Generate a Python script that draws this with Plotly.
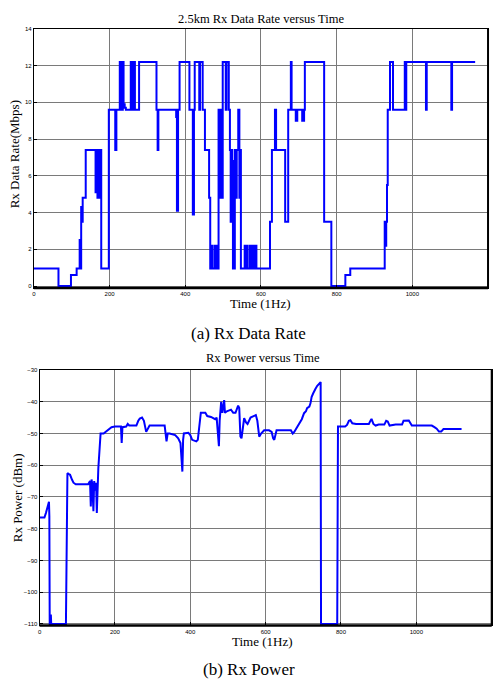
import plotly.graph_objects as go

# ---------------- data: Rx data rate (step function, value holds from each time) ----
rate_time = [0, 65, 98, 113, 121, 123, 125, 127, 129, 137, 163, 165, 168, 170, 172, 174, 178,
             198, 215, 218, 227, 229, 231, 233, 235, 237, 240, 243, 256, 258, 260, 263, 265, 267,
             278, 324, 327, 329, 376, 378, 381, 385, 411, 420, 423, 425, 437, 439, 446, 452,
             463, 466, 470, 472, 478, 480, 483, 485, 488, 491, 493, 496, 499, 507, 509, 515,
             518, 520, 522, 524, 526, 531, 534, 536, 540, 543, 545, 547, 557, 559, 562, 564,
             570, 572, 575, 577, 581, 583, 586, 588, 624, 629, 637, 640, 664, 672, 679, 681,
             692, 696, 709, 714, 716, 767, 786, 823, 836, 927, 929, 931, 933, 935, 941, 949,
             980, 982, 984, 1036, 1038, 1103, 1105, 1166]
rate_mbps = [0.96, 0.0, 0.6, 0.96, 2.5, 0.96, 4.3, 3.5, 4.8, 7.4, 5.1, 7.4, 4.8, 7.4, 4.8, 7.4, 0.96,
             9.6, 7.4, 9.6, 12.2, 9.6, 12.2, 9.6, 12.2, 9.9, 9.7, 9.6, 12.2, 9.6, 12.2, 9.6, 12.2, 9.6,
             12.2, 9.6, 7.4, 9.6, 9.2, 4.1, 9.6, 12.2, 9.6, 3.9, 9.6, 12.2, 9.6, 12.2, 9.6, 7.4,
             4.8, 0.96, 2.2, 0.96, 2.2, 0.96, 2.2, 0.96, 9.6, 4.8, 9.6, 4.8, 12.2, 9.6, 12.2, 9.6,
             7.4, 3.5, 7.4, 6.8, 0.96, 7.4, 4.8, 7.4, 9.6, 4.8, 7.4, 0.96, 2.2, 0.96, 2.2, 0.96,
             2.2, 0.96, 2.2, 0.96, 2.2, 0.96, 2.2, 0.96, 3.5, 7.4, 9.6, 7.4, 3.5, 9.6, 12.2, 9.6,
             9.0, 9.6, 9.0, 9.6, 12.2, 3.5, 0.0, 0.6, 0.96, 3.5, 2.2, 3.5, 5.5, 9.6, 12.2, 9.6,
             12.2, 9.6, 12.2, 9.6, 12.2, 9.6, 12.2, 12.2]

# ---------------- data: Rx power --------------------------------------------------
power_time = [0, 13, 17, 20, 23, 25, 26, 27, 29, 30, 31, 70, 72, 74, 78, 81, 86, 90, 96, 110,
              129, 134, 136, 138, 140, 143, 145, 148, 150, 152, 154, 156, 162, 170, 175, 182,
              191, 200, 216, 218, 220, 230, 234, 238, 257, 262, 266, 272, 277, 283, 287, 292,
              332, 335, 337, 340, 345, 360, 368, 374, 377, 379, 381, 383, 395, 400, 405, 416,
              420, 425, 428, 440, 445, 455, 466, 470, 474, 476, 478, 482, 485, 488, 490, 492,
              497, 508, 514, 520, 527, 530, 533, 536, 540, 543, 548, 552, 560, 568, 574, 578,
              583, 588, 596, 609, 616, 620, 623, 629, 640, 667, 672, 676, 681, 686, 690, 696,
              702, 707, 710, 716, 719, 722, 726, 729, 732, 737, 740, 744, 746, 747, 790, 792,
              803, 811, 816, 821, 825, 830, 840, 874, 879, 881, 886, 892, 900, 915, 920, 924,
              929, 945, 962, 966, 980, 988, 1000, 1041, 1048, 1054, 1060, 1066, 1072, 1090,
              1120]
power_dbm = [-76.5, -76.5, -75, -73.5, -72, -71.5, -76, -110, -110, -107, -110, -110, -80, -62.5,
             -62.8, -63, -64.5, -65.5, -66, -66, -66, -65, -73, -64.5, -66, -74.5, -65, -68,
             -65.5, -75, -61, -61, -50, -50, -49.5, -48.8, -48, -47.8, -47.8, -53, -48, -47.8,
             -47, -47.5, -47.5, -46, -45.3, -45, -46, -49.5, -48.5, -47.5, -47.5, -51, -52.5,
             -50, -50, -50.5, -51.5, -53, -58, -62, -52, -50, -49.8, -50.5, -52, -52.5, -52,
             -45, -43.5, -43.5, -44.5, -44.8, -45.5, -45, -54, -54, -46, -40, -43.5, -41,
             -39.5, -43.5, -43, -42.5, -43.5, -43.5, -41.2, -42, -50.9, -51.5, -47, -45.2,
             -46.5, -47, -45, -44.5, -44.2, -46, -51, -50, -49, -49, -49.5, -51.5, -52, -49,
             -49, -49, -50, -49.5, -48.5, -47.5, -46.5, -45.5, -43.6, -43, -42, -41.5, -40.5,
             -38.5, -37.4, -36.5, -36, -35, -34.5, -34, -33.8, -110, -110, -47.8, -47.8, -47.8,
             -47.3, -46, -45.8, -46.8, -47, -47, -45.8, -45.4, -47, -47.5, -47.2, -47.2, -46,
             -46.2, -47.5, -47.2, -47.2, -46, -45.9, -47.5, -47.5, -47.5, -48, -48.5, -49.4,
             -49.4, -48.6, -48.6, -48.6]

x_ticks = [0, 200, 400, 600, 800, 1000, 1200]
rate_ticks = [0, 2, 4, 6, 8, 10, 12, 14]
power_ticks = [-110, -100, -90, -80, -70, -60, -50, -40, -30]

W, H = 495, 683


def px(x):
    return x / W


def py(y):
    return 1 - y / H


BLUE = "#0000ff"
SERIF = "Liberation Serif, Times New Roman, serif"
SANS = "Liberation Sans, Arial, sans-serif"

fig = go.Figure()
fig.add_trace(go.Scatter(x=rate_time, y=rate_mbps, mode="lines", line_shape="hv",
                         line=dict(color=BLUE, width=2), xaxis="x", yaxis="y",
                         showlegend=False))
fig.add_trace(go.Scatter(x=power_time, y=power_dbm, mode="lines",
                         line=dict(color=BLUE, width=2), xaxis="x2", yaxis="y2",
                         showlegend=False))

axis_common = dict(showgrid=True, gridcolor="#7a7a7a", gridwidth=1, zeroline=False,
                   showline=True, linecolor="black", linewidth=1, mirror=True,
                   ticks="inside", ticklen=3, tickcolor="black",
                   tickfont=dict(family=SANS, size=6, color="black"))

fig.update_layout(
    width=W, height=H, autosize=False,
    margin=dict(l=0, r=0, t=0, b=0),
    paper_bgcolor="white", plot_bgcolor="white",
    xaxis=dict(domain=[px(32), px(488)], range=[0, 1200], tickvals=x_ticks,
               anchor="y", **axis_common),
    yaxis=dict(domain=[py(287), py(26)], range=[-0.1, 14], tickvals=rate_ticks,
               anchor="x", **axis_common),
    xaxis2=dict(domain=[px(37.7), px(491.7)], range=[0, 1200], tickvals=x_ticks,
                anchor="y2", **axis_common),
    yaxis2=dict(domain=[py(627), py(369.7)], range=[-110.45, -30], tickvals=power_ticks,
                anchor="x2", **axis_common),
)

# thicker bottom / right frame lines like the original (MATLAB style)
for xa, ya in (("x", "y"), ("x2", "y2")):
    fig.add_shape(type="line", xref=f"{xa} domain", yref=f"{ya} domain",
                  x0=0, x1=1, y0=0, y1=0, line=dict(color="black", width=2.5))
    fig.add_shape(type="line", xref=f"{xa} domain", yref=f"{ya} domain",
                  x0=1, x1=1, y0=0, y1=1, line=dict(color="black", width=2))

texts = [
    ("2.5km Rx Data Rate versus Time", 260, 16, 12.5, 0),
    ("Time (1Hz)", 260, 303, 13, 0),
    ("Rx Data Rate(Mbps)", 12.5, 152, 13, -90),
    ("(a) Rx Data Rate", 247.5, 333, 17, 0),
    ("Rx Power versus Time", 262, 358, 12.5, 0),
    ("Rx Power (dBm)", 15, 498, 13, -90),
    ("Time (1Hz)", 262, 643, 13, 0),
    ("(b) Rx Power", 247.5, 671, 17, 0),
]
for t, x, y, s, ang in texts:
    fig.add_annotation(text=t, x=px(x), y=py(y), xref="paper", yref="paper",
                       xanchor="center", yanchor="middle", showarrow=False,
                       textangle=ang, font=dict(family=SERIF, size=s, color="black"))

fig.write_html("out.html")
